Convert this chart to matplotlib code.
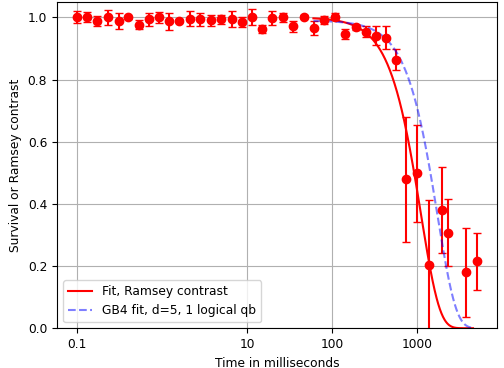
import numpy as np
import matplotlib
matplotlib.use('Agg')
import matplotlib.pyplot as plt

# measured points (time in ms, survival / contrast, error)
t_ms = [0.1, 0.13, 0.17, 0.229, 0.308, 0.402, 0.531, 0.709, 0.925, 1.22,
        1.6, 2.13, 2.82, 3.77, 4.99, 6.59, 8.73, 11.3, 15.0, 19.7,
        26.2, 34.6, 45.9, 60.8, 80.5, 107, 142, 188, 247, 323,
        429, 568, 743, 1000, 1384, 1968, 2291, 3700, 4990]
surv = [1.0, 1.0, 0.987, 1.0, 0.989, 1.0, 0.976, 0.994, 1.0, 0.987,
        0.989, 0.996, 0.994, 0.991, 0.994, 0.996, 0.985, 1.0, 0.963, 0.998,
        1.0, 0.971, 1.002, 0.966, 0.991, 1.002, 0.946, 0.969, 0.954, 0.941,
        0.934, 0.864, 0.479, 0.499, 0.203, 0.380, 0.308, 0.180, 0.215]
err = [0.019, 0.016, 0.016, 0.024, 0.025, 0.005, 0.014, 0.021, 0.018, 0.026,
       0.005, 0.023, 0.021, 0.018, 0.014, 0.026, 0.017, 0.026, 0.012, 0.021,
       0.015, 0.017, 0.005, 0.022, 0.013, 0.011, 0.016, 0.008, 0.018, 0.030,
       0.037, 0.033, 0.202, 0.156, 0.208, 0.139, 0.107, 0.144, 0.092]

# fit parameters: A * exp(-(t/T)^2)
ramsey_A, ramsey_T = 1.0, 1100.0
gb4_A, gb4_T = 0.99, 1720.0
fit_start, fit_stop = 60, 4500

t_fit = np.logspace(np.log10(fit_start), np.log10(fit_stop), 400)
ramsey_fit = ramsey_A * np.exp(-(t_fit / ramsey_T) ** 2)
gb4_fit = gb4_A * np.exp(-(t_fit / gb4_T) ** 2)

plt.rcParams['font.size'] = 8.8

fig = plt.figure(figsize=(5.04, 3.68), dpi=100)
ax = fig.add_axes([0.113, 0.108, 0.873, 0.887])

ax.errorbar(t_ms, surv, yerr=err, fmt='o', color='r', ms=6, capsize=3)
ax.plot(t_fit, ramsey_fit, 'r-', label='Fit, Ramsey contrast')
ax.plot(t_fit, gb4_fit, 'b--', alpha=0.5, label='GB4 fit, d=5, 1 logical qb')

ax.set_xscale('log')
ax.set_xlim(0.0582, 8600)
ax.set_ylim(0, 1.05)
ax.set_xticks([0.1, 10, 100, 1000])
ax.set_xticklabels(['0.1', '10', '100', '1000'])
ax.xaxis.set_minor_locator(matplotlib.ticker.NullLocator())
ax.grid(True)
ax.set_xlabel('Time in milliseconds')
ax.set_ylabel('Survival or Ramsey contrast')
ax.legend(loc='lower left')

fig.savefig('out.png', dpi=100)
